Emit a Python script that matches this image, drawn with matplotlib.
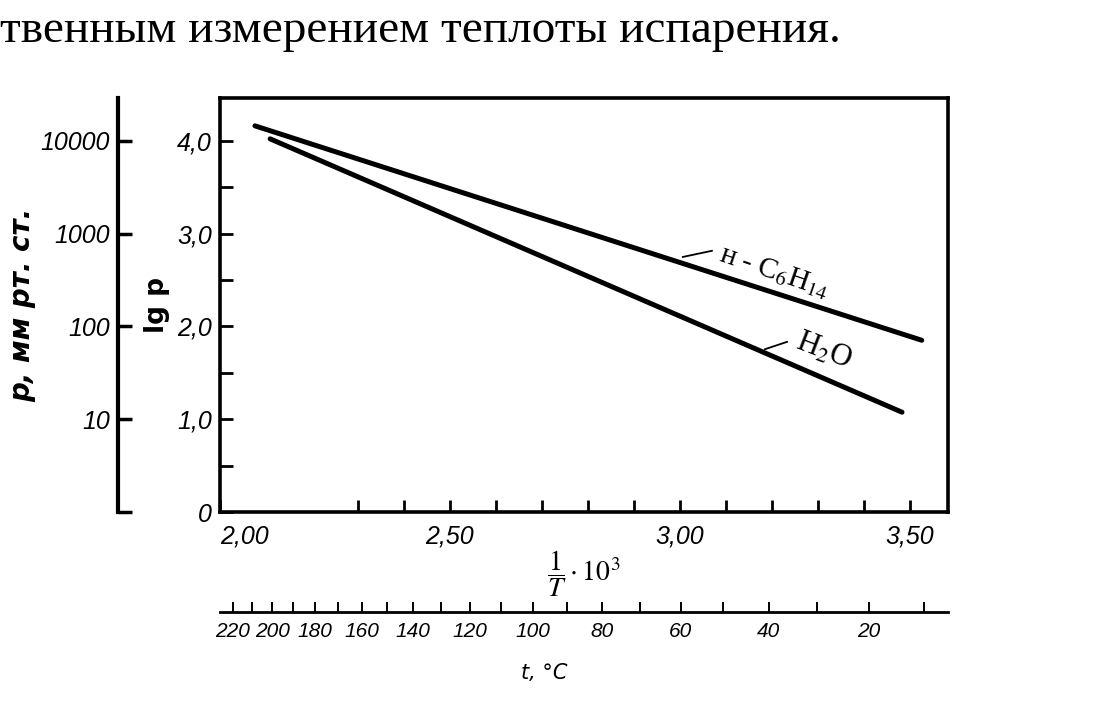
import numpy as np
import matplotlib.pyplot as plt

plt.rcParams['mathtext.fontset'] = 'stix'

# straight lines: x = 1/T * 10^3, y = lg p
hexane_x = [2.076, 3.526]
hexane_y = [4.16, 1.85]
water_x = [2.109, 3.483]
water_y = [4.02, 1.075]

x_major = [2.00, 2.50, 3.00, 3.50]
x_minor = [2.3, 2.4, 2.6, 2.7, 2.8, 2.9, 3.1, 3.2, 3.3, 3.4]
y_major = [0, 1, 2, 3, 4]
y_minor = [0.5, 1.5, 2.5, 3.5]
p_ticks = [1, 10, 100, 1000, 10000]
p_labels = ['', '10', '100', '1000', '10000']
t_major = [220, 200, 180, 160, 140, 120, 100, 80, 60, 40, 20]
t_minor = [210, 190, 170, 150, 130, 110, 90, 70, 50, 30, 10]

num_font = 'Liberation Sans'


def lg_to_p(y):
    return 10.0 ** np.asarray(y, dtype=float)


def p_to_lg(p):
    p = np.asarray(p, dtype=float)
    with np.errstate(divide='ignore', invalid='ignore'):
        return np.log10(p)


def inv_to_t(x):
    x = np.asarray(x, dtype=float)
    with np.errstate(divide='ignore', invalid='ignore'):
        return 1000.0 / x - 273.15


def t_to_inv(t):
    t = np.asarray(t, dtype=float)
    with np.errstate(divide='ignore', invalid='ignore'):
        return 1000.0 / (t + 273.15)


def style_labels(labels, size, weight='normal'):
    for lab in labels:
        lab.set_family(num_font)
        lab.set_fontstyle('italic')
        lab.set_fontsize(size)
        lab.set_fontweight(weight)


fig = plt.figure(figsize=(11.2, 7.12), dpi=100)
fig.text(0.0, 1 - 42 / 712, 'твенным измерением теплоты испарения.',
         fontsize=34, family='Liberation Serif', va='baseline')

ax = fig.add_axes([220 / 1120, 1 - 512 / 712, 728 / 1120, 414 / 712])
ax.plot(hexane_x, hexane_y, color='black', lw=3.6, solid_capstyle='round')
ax.plot(water_x, water_y, color='black', lw=3.6, solid_capstyle='round')
ax.set_xlim(2.0, 3.583)
ax.set_ylim(0, 4.46)

for s in ax.spines.values():
    s.set_linewidth(2.6)

ax.set_xticks(x_major, [f'{v:.2f}'.replace('.', ',') for v in x_major])
ax.set_xticks(x_minor, minor=True)
ax.set_yticks(y_major, ['0' if v == 0 else f'{v:.1f}'.replace('.', ',') for v in y_major])
ax.set_yticks(y_minor, minor=True)
ax.tick_params(which='both', direction='in', length=9, width=2)
ax.tick_params(axis='x', pad=9)
ax.tick_params(axis='y', pad=6)
style_labels(ax.get_xticklabels(), 18)
style_labels(ax.get_yticklabels(), 18)
ax.get_xticklabels()[0].set_horizontalalignment('left')

ax.set_xlabel(r'$\dfrac{1}{T}\cdot 10^3$', fontsize=20, labelpad=0)
ax.set_ylabel('lg p', fontsize=19, labelpad=5, fontweight='bold')

# curve labels with short leaders
hex_lead = [3.0065, 3.0696]
ax.plot(hex_lead, [np.interp(hex_lead[0], hexane_x, hexane_y) + 0.07, 2.814],
        color='black', lw=1.3)
ax.text(3.087, 2.79, 'н - C$_6$H$_{14}$', fontsize=21, family='Liberation Serif',
        rotation=-19, rotation_mode='anchor', ha='left', va='center')

wat_lead = [3.185, 3.233]
ax.plot(wat_lead, [np.interp(wat_lead[0], water_x, water_y) + 0.04, 1.833],
        color='black', lw=1.3)
ax.text(3.254, 1.84, 'H$_2$O', fontsize=22, family='Liberation Serif',
        rotation=-21, rotation_mode='anchor', ha='left', va='center')

# pressure scale on the left
sec_p = ax.secondary_yaxis(-0.14, functions=(lg_to_p, p_to_lg))
sec_p.set_ticks(p_ticks, labels=p_labels)
sec_p.spines['left'].set_linewidth(3)
sec_p.tick_params(direction='in', length=10, width=2.5, pad=6)
style_labels(sec_p.get_yticklabels(), 18)
sec_p.set_ylabel('р, мм рт. ст.', fontsize=20, fontweight='bold',
                 fontstyle='italic', labelpad=3)

# temperature scale below
sec_t = ax.secondary_xaxis(-0.2415, functions=(inv_to_t, t_to_inv))
sec_t.set_ticks(t_major, labels=[str(t) for t in t_major])
sec_t.set_ticks(t_minor, minor=True)
sec_t.spines['bottom'].set_linewidth(2)
sec_t.tick_params(which='both', direction='in', length=7, width=1.4, pad=7)
style_labels(sec_t.get_xticklabels(), 15)
sec_t.set_xlabel('t, °C', fontsize=15, fontstyle='italic', x=0.446, labelpad=16)

fig.savefig('out.png', dpi=100)
